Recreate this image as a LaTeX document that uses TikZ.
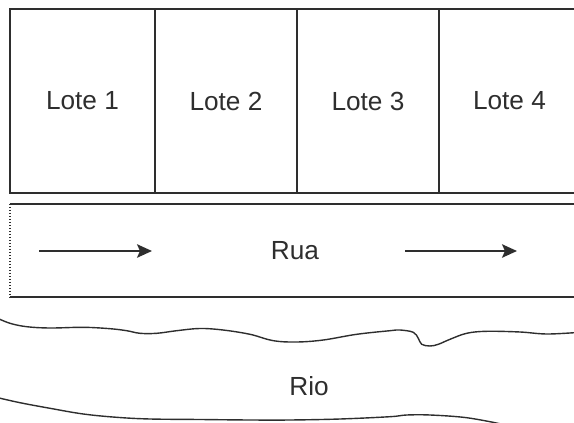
\documentclass[tikz,border=0pt]{standalone}
\usepackage{fontspec}
\setmainfont{Liberation Sans}
\usetikzlibrary{arrows.meta}
\definecolor{ink}{HTML}{2E2E2E}
\begin{document}
\begin{tikzpicture}[x=1pt,y=-1pt,
  txt/.style={text=ink, inner sep=0pt, font=\fontsize{26.2}{30}\selectfont},
  lot/.style={txt, draw=ink, line width=1.6pt, minimum height=184pt},
  edge/.style={draw=ink, line width=1.6pt},
  flow/.style={draw=ink, line width=1.8pt, -{Stealth[length=15pt 0,width=13.5pt 0,inset=3pt]}},
  bank/.style={draw=ink, line width=1.4pt}]
\useasboundingbox (0,0) rectangle (574,423);
\clip (0,0) rectangle (574,423);

% row of lots
\node[lot, minimum width=145pt] (l1) at (82.5,101) {Lote 1};
\node[lot, minimum width=142pt] (l2) at (226,101) {Lote 2};
\node[lot, minimum width=142pt] (l3) at (368,101) {Lote 3};
\node[lot, minimum width=141pt] (l4) at (509.5,101) {Lote 4};

% the street
\node[txt, minimum width=570pt, minimum height=93pt] (rua) at (295,250.5) {Rua};
\draw[edge] (rua.north west) -- (rua.north east);
\draw[edge] (rua.south west) -- (rua.south east);
\draw[draw=ink, line width=1.4pt, dash pattern=on 1.5pt off 1.5pt] (rua.north west) -- (rua.south west);

% traffic direction
\coordinate (a1s) at (39,251);
\coordinate (a1e) at (152,251);
\coordinate (a2s) at (405,251);
\coordinate (a2e) at (517,251);
\draw[flow] (a1s) -- (a1e);
\draw[flow] (a2s) -- (a2e);

% river banks
\draw[bank] plot[smooth, tension=0.6] coordinates {
  (-3,318) (10,323.3) (26.7,326.7) (50,328) (83.3,327.3) (110,328.7)
  (126.7,330.7) (140,333.3) (156.7,333.3) (176.7,330.7) (200,328.5)
  (223,330) (250,334.3) (273.3,340.7) (296.7,342) (323.3,340)
  (356.7,334.3) (390,330.7) (400,330) (413.3,332.3) (418.3,338.3)
  (421.7,344.3) (430,346) (438.3,344.3) (450,339.3) (466.7,333.3)
  (486.7,331.3) (520,332) (546.7,334) (577,332.5)};
\draw[bank] plot[smooth, tension=0.6] coordinates {
  (-3,397.5) (20,402.7) (50,408.3) (83.3,414) (116.7,417.3) (150,419)
  (200,419.5) (250,420) (290,420) (340,419) (390,416.7) (406.7,415)
  (430,415) (463.3,417.3) (490,421.7) (505,425)};

\node[txt] (rio) at (309,386) {Rio};
\end{tikzpicture}
\end{document}
